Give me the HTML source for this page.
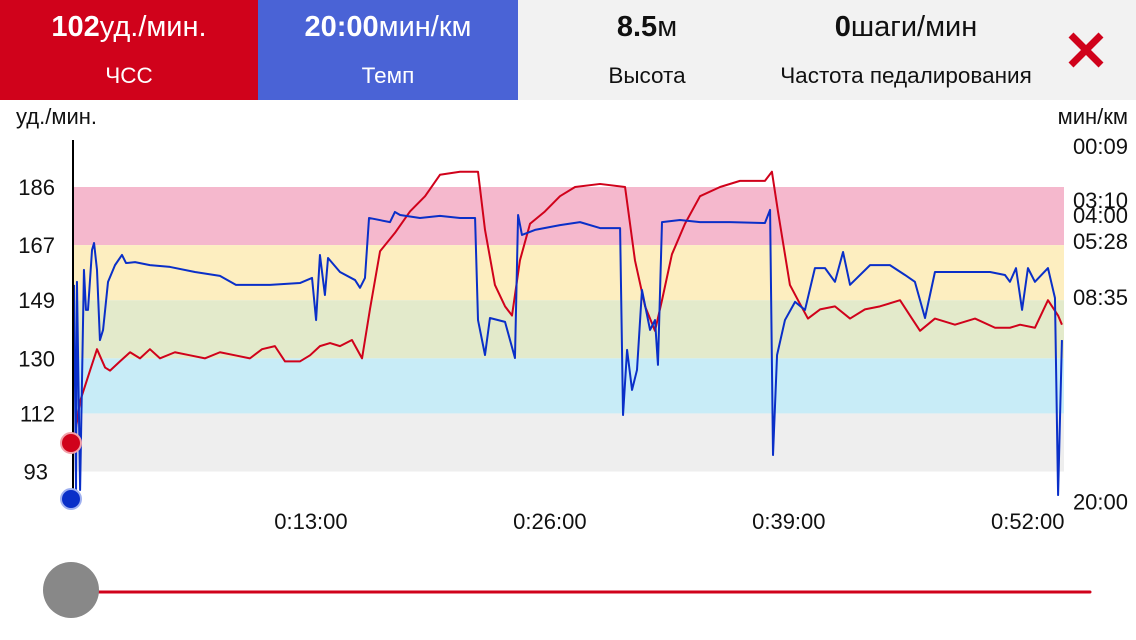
<!DOCTYPE html>
<html><head><meta charset="utf-8"><style>
body{margin:0;width:1136px;height:640px;background:#fff;font-family:"Liberation Sans","DejaVu Sans",sans-serif;overflow:hidden;position:relative}
.hdr{position:absolute;top:0;height:100px;text-align:center;box-sizing:border-box}
.v{position:absolute;top:11px;left:0;right:0;font-size:29px}
.l{position:absolute;top:63px;left:0;right:0;font-size:22.5px}
</style></head><body>
<div class="hdr" style="left:0;width:258px;background:#d0021b;color:#fff"><div class="v"><b>102</b>уд./мин.</div><div class="l">ЧСС</div></div>
<div class="hdr" style="left:258px;width:260px;background:#4a63d6;color:#fff"><div class="v"><b>20:00</b>мин/км</div><div class="l">Темп</div></div>
<div class="hdr" style="left:518px;width:618px;background:#f2f2f2;color:#111"></div>
<div class="hdr" style="left:518px;width:258px;color:#111"><div class="v"><b>8.5</b>м</div><div class="l">Высота</div></div>
<div class="hdr" style="left:766px;width:280px;color:#111"><div class="v"><b>0</b>шаги/мин</div><div class="l">Частота педалирования</div></div>
<svg width="40" height="40" style="position:absolute;left:1066px;top:30px"><path d="M5 5L35 35M35 5L5 35" stroke="#d0021b" stroke-width="7" stroke-linecap="butt"/></svg>
<svg id="chart" width="1136" height="540" style="position:absolute;top:100px;left:0" viewBox="0 100 1136 540"></svg>
<script>
const hrTicks=[186,167,149,130,112,93];
const paceTickLabels=["00:09","03:10","04:00","05:28","08:35","20:00"];
const paceTickSecs=[9,190,240,328,515,1200];
const timeTicks=[13,26,39,52];
const timeTickLabels=["0:13:00","0:26:00","0:39:00","0:52:00"];
const hrTimes=[0.11,0.44,0.98,1.36,1.8,2.07,2.61,3.16,3.7,4.24,4.79,5.6,6.42,7.24,8.05,8.87,9.68,10.34,11.04,11.59,12.4,12.95,13.49,14.04,14.58,15.23,15.78,16.21,16.76,17.57,18.39,19.21,20.02,21.11,22.09,22.47,23.01,23.56,23.94,24.37,24.92,25.73,26.55,27.37,28.73,30.09,30.63,31.18,31.72,32.1,32.64,33.35,34.17,35.26,36.34,37.7,38.08,38.41,39.06,39.5,40.04,40.7,41.51,42.33,43.14,43.96,45.05,45.7,46.14,46.95,48.04,49.13,50.22,51.03,51.58,52.39,53.1,53.65,53.86];
const hrValues=[103,116,126,133,127,126,129,132,130,133,130,132,131,130,132,131,130,133,134,129,129,131,134,135,134,136,130,146,165,171,178,183,190,191,191,172,154,147,144,162,174,178,183,186,187,186,162,147,139,149,164,174,183,186,188,188,191,178,154,149,143,146,147,143,146,147,149,143,139,143,141,143,140,140,141,140,149,144,141];
const paceTimes=[0.11,0.22,0.27,0.44,0.65,0.76,0.87,1.09,1.2,1.36,1.52,1.69,1.96,2.34,2.72,2.94,3.43,4.24,5.33,6.69,8.05,8.92,10.77,12.4,13.06,13.28,13.49,13.76,13.93,14.58,15.4,15.67,15.94,16.16,17.3,17.57,17.85,18.93,20.02,21.11,21.93,22.09,22.47,22.74,23.56,24.1,24.27,24.48,25.19,26.55,27.64,28.73,29.82,29.98,30.2,30.47,30.74,31.01,31.45,31.72,31.88,32.1,33.08,34.17,35.8,37.7,37.98,38.14,38.36,38.79,39.34,39.88,40.42,40.97,41.51,41.95,42.33,43.42,44.5,45.32,45.86,46.41,46.95,48.31,49.95,50.76,51.03,51.36,51.69,52.01,52.39,53.1,53.48,53.65,53.86];
const paceValues=[474,1161,464,1161,424,558,558,357,334,424,659,625,464,408,374,401,398,408,414,431,444,474,474,468,451,592,374,508,384,431,458,484,451,250,264,230,240,250,243,250,250,592,709,585,598,719,240,307,290,274,264,284,284,910,692,826,759,491,625,592,742,264,257,264,264,267,223,1044,709,592,531,558,418,418,464,364,474,408,408,441,464,585,431,431,431,441,464,418,558,418,464,418,518,1178,659];
const svg=document.getElementById('chart');const NS='http://www.w3.org/2000/svg';
const X0=72,PXM=18.38;
const xS=t=>X0+t*PXM;
const yHR=v=>187+(186-v)*3.06;
const yPace=s=>143.3+s*0.2986;
function mk(tag,at,txt){const e=document.createElementNS(NS,tag);for(const k in at)e.setAttribute(k,at[k]);if(txt!==undefined)e.textContent=txt;svg.appendChild(e);return e;}
const bandCols=['#f5b8cd','#fdeec0','#e3eacb','#c8ecf7','#eeeeee'];
for(let i=0;i<5;i++){const b=mk('rect',{x:74,y:yHR(hrTicks[i]),width:990,height:yHR(hrTicks[i+1])-yHR(hrTicks[i]),fill:bandCols[i]});

}
hrTicks.forEach(v=>{const t=mk('text',{x:v<100?48:55,y:yHR(v)+8,'text-anchor':'end','font-size':22,fill:'#111'},v);

});
paceTickSecs.forEach((s,i)=>{const t=mk('text',{x:1128,y:yPace(s)+8,'text-anchor':'end','font-size':22,fill:'#111'},paceTickLabels[i]);

});
timeTicks.forEach((m,i)=>{const t=mk('text',{x:xS(m),y:529,'text-anchor':'middle','font-size':22,fill:'#111'},timeTickLabels[i]);

});
let a=mk('text',{x:16,y:124,'font-size':22,fill:'#111'},'уд./мин.');


a=mk('text',{x:1128,y:124,'text-anchor':'end','font-size':22,fill:'#111'},'мин/км');


let p=mk('polyline',{points:hrTimes.map((t,i)=>xS(t)+','+yHR(hrValues[i])).join(' '),fill:'none',stroke:'#d0021b','stroke-width':2,'stroke-linejoin':'round'});


p=mk('polyline',{points:paceTimes.map((t,i)=>xS(t)+','+yPace(paceValues[i])).join(' '),fill:'none',stroke:'#0a2fc8','stroke-width':2,'stroke-linejoin':'round'});


p=mk('line',{x1:73,y1:140,x2:73,y2:500,stroke:'#000','stroke-width':2});


p=mk('circle',{cx:71,cy:443,r:10,fill:'#d0021b',stroke:'#f2a0a8','stroke-width':2});


p=mk('circle',{cx:71,cy:499,r:10,fill:'#0a2fc8',stroke:'#9fb0f0','stroke-width':2});


p=mk('line',{x1:72,y1:592,x2:1090,y2:592,stroke:'#d0021b','stroke-width':3,'stroke-linecap':'round'});


p=mk('circle',{cx:71,cy:590,r:28,fill:'#888'});


</script>
</body></html>
